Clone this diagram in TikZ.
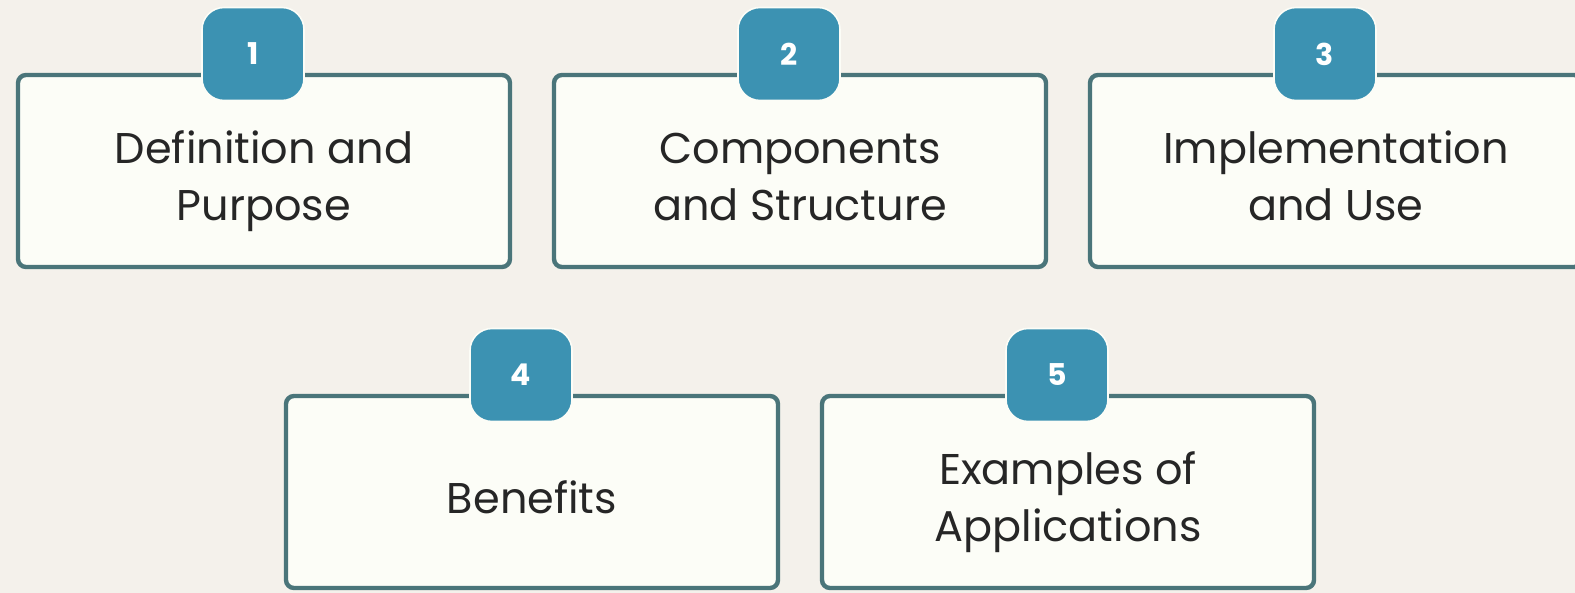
\documentclass[tikz,border=0pt]{standalone}
\usepackage{fontspec}
\setmainfont{Poppins}
\usepackage{xcolor}
\definecolor{pagebg}{HTML}{F4F1EB}
\definecolor{cardfill}{HTML}{FCFDF7}
\definecolor{cardedge}{HTML}{4A757A}
\definecolor{badgeblue}{HTML}{3C92B2}
\usetikzlibrary{positioning}
% card text, lowered a little below the middle of the card
\newcommand{\cardtext}[1]{\raisebox{-5pt}[\height][\depth]{%
  \renewcommand{\arraystretch}{1.0}\begin{tabular}{@{}c@{}}#1\end{tabular}}}

\begin{document}
\begin{tikzpicture}[
  x=0.5pt, y=-0.5pt,
  card/.style={rectangle, rounded corners=4pt, draw=cardedge, fill=cardfill,
               line width=2.2pt, minimum width=246pt, minimum height=96pt,
               font=\fontsize{21.5}{28.5}\selectfont, text=black!85},
  badge/.style={rectangle, rounded corners=11pt, fill=badgeblue, draw=cardfill,
                line width=0.8pt, minimum width=51pt, minimum height=46.5pt,
                font=\fontsize{15}{18}\selectfont\bfseries, text=white},
]
\useasboundingbox (0,0) rectangle (1575,593);
\fill[pagebg] (0,0) rectangle (1575,593);

% ================= top row
\node[card] (c1) at (264,171)  {\cardtext{Definition and\\Purpose}};
\node[card] (c2) at (800,171)  {\cardtext{Components\\and Structure}};
\node[card] (c3) at (1336,171) {\cardtext{Implementation\\and Use}};

\node[badge] (n1) at (253,54)  {1};
\node[badge] (n2) at (789,54)  {2};
\node[badge] (n3) at (1325,54) {3};

% ================= bottom row
\node[card] (c4) at (532,492)  {\cardtext{Benefits}};
\node[card] (c5) at (1068,492) {\cardtext{Examples of\\Applications}};

\node[badge] (n4) at (521,375)  {4};
\node[badge] (n5) at (1057,375) {5};
\end{tikzpicture}
\end{document}
